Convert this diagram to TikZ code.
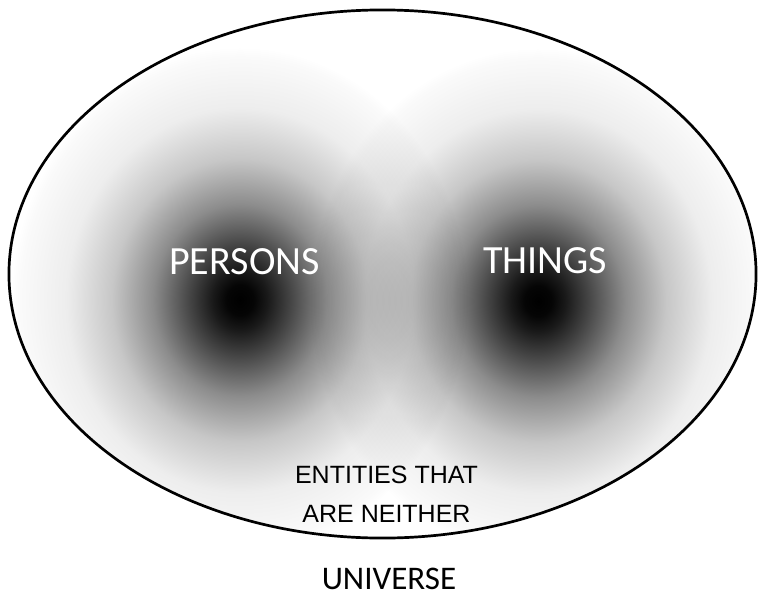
\documentclass[tikz,border=0pt]{standalone}
\usepackage{fontspec}
\newfontfamily\calib{Carlito}
\newfontfamily\arialf{Liberation Sans}
\usepackage{tikz}
\usetikzlibrary{shapes.geometric,fadings}

% opacity profile of a cloud (opaque black in the middle, gone at the rim)
\pgfdeclareradialshading{blobmask}{\pgfpoint{0bp}{0bp}}{color(0bp)=(transparent!0); color(1.5bp)=(transparent!2); color(3bp)=(transparent!10); color(5.5bp)=(transparent!27); color(9.5bp)=(transparent!55); color(14bp)=(transparent!78); color(19bp)=(transparent!93); color(24bp)=(transparent!98); color(25bp)=(transparent!100); color(50bp)=(transparent!100)}
\pgfdeclarefading{blobfade}{\pgfuseshading{blobmask}}

\begin{document}
\begin{tikzpicture}[x=1pt, y=-1pt,
  blob/.style={fill=black, path fading=blobfade},
  bigword/.style={font=\calib\fontsize{40}{48}\selectfont, text=white, anchor=base, inner sep=0pt},
  small/.style={font=\arialf\fontsize{25}{39}\selectfont, align=center, anchor=base, inner sep=0pt}]
\useasboundingbox (0,0) rectangle (759,594);
\node[draw, ellipse, line width=1.8pt, fill=white, minimum width=748pt, minimum height=529pt] (univ) at (382.5,274) {};

% two fuzzy clouds, kept inside the universe
\begin{scope}
  \clip (382.5,274) ellipse (373 and 263.5);
  \fill[blob] (240,300) ellipse (228 and 252);
  \fill[blob] (538,301) ellipse (228 and 252);
\end{scope}
\draw[line width=1.8pt] (univ.center) ellipse (373.1 and 263.6);

\node[bigword] (persons) at (244.5,274) {PERSONS};
\node[bigword] (things) at (545,273) {THINGS};
\node[small] (neither) at (386.5,522) {ENTITIES THAT\\ARE NEITHER};
\node[font=\calib\fontsize{33}{40}\selectfont, anchor=base, inner sep=0pt] (universe) at (389,589) {UNIVERSE};
\end{tikzpicture}
\end{document}
